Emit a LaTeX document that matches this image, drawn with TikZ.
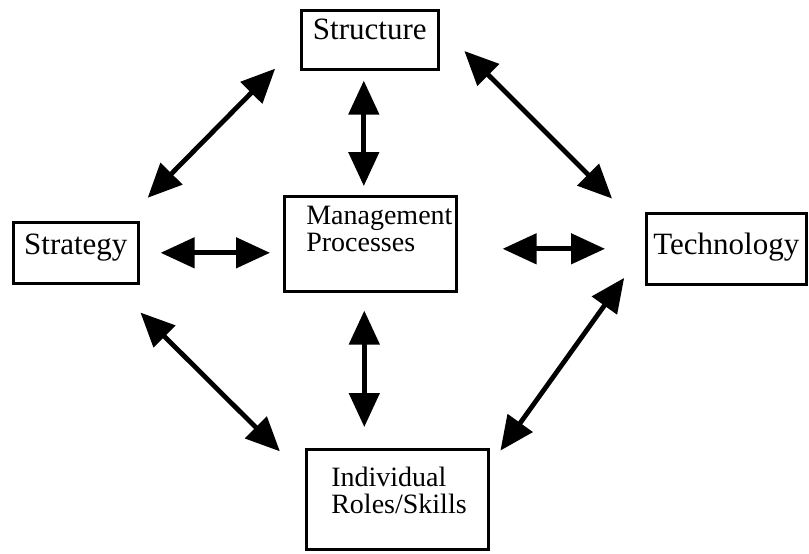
\documentclass[tikz,border=0pt]{standalone}
\usepackage{fontspec}
\setmainfont{Liberation Serif}
\usetikzlibrary{arrows.meta}
\begin{document}
\begin{tikzpicture}[x=0.5pt, y=-0.5pt,
    box/.style={draw, line width=1.3pt, rectangle, anchor=north west, inner ysep=0pt, font=\fontsize{15.5}{18}\selectfont},
    twoline/.style={box, align=left, font=\fontsize{14}{13.5}\selectfont},
    link/.style={line width=2.4pt, {Triangle[length=17pt,width=15pt]}-{Triangle[length=17pt,width=15pt]}}]
  \useasboundingbox (0,0) rectangle (809,553);

  \node (struct) at (300,9) [box, minimum width=68.5pt, text height=14.5pt, text depth=15pt] {Structure};
  \node (strat) at (12,221) [box, minimum width=62.5pt, text height=16pt, text depth=14.5pt] {Strategy};
  \node (tech) at (645,212) [box, minimum width=80pt, text height=20.5pt, text depth=15pt] {Technology};
  \node (mgmt) at (283,195) [twoline, inner xsep=11pt, text width=64pt, text height=14pt, text depth=33.5pt] {Management\\Processes};
  \node (indiv) at (305,448) [twoline, inner xsep=12.5pt, text width=66pt, text height=18.5pt, text depth=31.5pt] {Individual\\Roles/Skills};

  \draw[link, shorten <=10.5pt, shorten >=6.5pt] (strat.east) -- (strat.east -| mgmt.west);
  \draw[link, shorten <=22.5pt, shorten >=20pt] (tech.west -| mgmt.east) -- (tech.west);
  \draw[link, shorten <=5pt, shorten >=4.5pt] ([xshift=-3pt]struct.south) -- ([xshift=-3pt]struct.south |- mgmt.north);
  \draw[link, shorten <=9pt, shorten >=10.5pt] ([xshift=-3pt]mgmt.south) -- ([xshift=-3pt]mgmt.south |- indiv.north);
  \draw[link, shorten <=16.3pt, shorten >=17.7pt] (strat.33) -- (struct.183);
  \draw[link, shorten <=17.5pt, shorten >=23.3pt] (struct.11) -- (tech.168);
  \draw[link, shorten <=19.8pt, shorten >=17.7pt] (strat.-41.5) -- (indiv.166);
  \draw[link, shorten <=17.9pt, shorten >=9.3pt] (tech.west) -- (indiv.20);
\end{tikzpicture}
\end{document}
